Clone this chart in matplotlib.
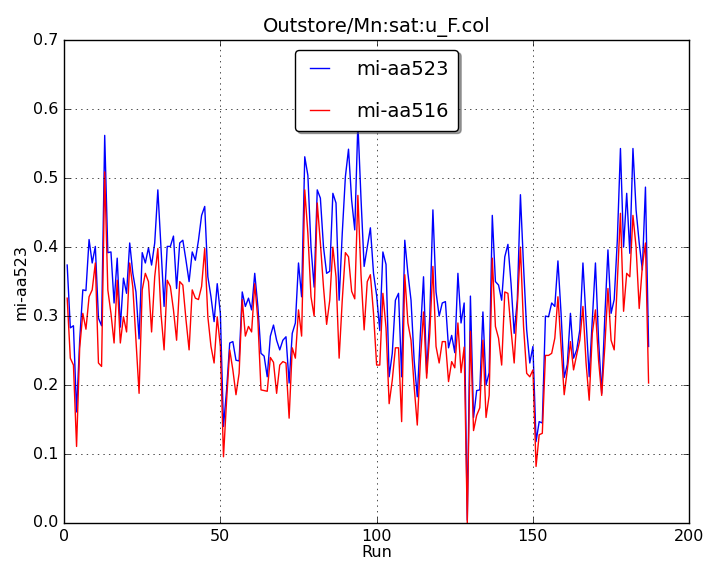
import matplotlib
matplotlib.use("Agg")
import matplotlib.pyplot as plt

# Run numbers and the two detector columns
runs = list(range(1, 188))

aa523 = [0.374, 0.283, 0.286, 0.161, 0.265, 0.338, 0.337, 0.411, 0.377, 0.401,
         0.297, 0.286, 0.562, 0.392, 0.393, 0.319, 0.384, 0.284, 0.355, 0.333,
         0.406, 0.362, 0.335, 0.267, 0.392, 0.377, 0.399, 0.374, 0.406, 0.483,
         0.400, 0.314, 0.401, 0.401, 0.416, 0.340, 0.406, 0.410, 0.381, 0.350,
         0.393, 0.381, 0.410, 0.446, 0.459, 0.357, 0.328, 0.292, 0.347, 0.304,
         0.140, 0.193, 0.261, 0.263, 0.236, 0.235, 0.335, 0.314, 0.326, 0.309,
         0.362, 0.314, 0.246, 0.242, 0.212, 0.271, 0.287, 0.265, 0.251, 0.265,
         0.270, 0.203, 0.275, 0.290, 0.377, 0.328, 0.531, 0.504, 0.400, 0.342,
         0.483, 0.471, 0.400, 0.362, 0.365, 0.478, 0.464, 0.323, 0.420, 0.502,
         0.542, 0.468, 0.425, 0.580, 0.470, 0.372, 0.400, 0.428, 0.362, 0.330,
         0.279, 0.393, 0.375, 0.212, 0.246, 0.323, 0.333, 0.212, 0.410, 0.362,
         0.323, 0.236, 0.183, 0.275, 0.357, 0.217, 0.299, 0.454, 0.335, 0.300,
         0.319, 0.321, 0.254, 0.272, 0.247, 0.362, 0.290, 0.319, 0.004, 0.329,
         0.153, 0.192, 0.193, 0.306, 0.200, 0.218, 0.446, 0.350, 0.345, 0.323,
         0.386, 0.404, 0.347, 0.275, 0.323, 0.476, 0.372, 0.280, 0.232, 0.256,
         0.118, 0.147, 0.145, 0.300, 0.299, 0.319, 0.314, 0.380, 0.304, 0.211,
         0.230, 0.304, 0.239, 0.251, 0.280, 0.377, 0.295, 0.212, 0.295, 0.377,
         0.265, 0.188, 0.299, 0.396, 0.304, 0.324, 0.410, 0.543, 0.400, 0.478,
         0.391, 0.543, 0.454, 0.406, 0.367, 0.487, 0.256]

aa516 = [0.326, 0.239, 0.229, 0.111, 0.254, 0.304, 0.281, 0.328, 0.338, 0.377,
         0.232, 0.227, 0.509, 0.338, 0.304, 0.261, 0.352, 0.261, 0.299, 0.277,
         0.377, 0.342, 0.265, 0.188, 0.338, 0.362, 0.350, 0.277, 0.357, 0.398,
         0.304, 0.251, 0.352, 0.343, 0.309, 0.265, 0.350, 0.345, 0.295, 0.251,
         0.338, 0.326, 0.324, 0.343, 0.398, 0.299, 0.256, 0.232, 0.299, 0.256,
         0.096, 0.178, 0.251, 0.222, 0.186, 0.217, 0.324, 0.271, 0.285, 0.277,
         0.347, 0.295, 0.193, 0.192, 0.191, 0.240, 0.233, 0.188, 0.229, 0.234,
         0.232, 0.152, 0.254, 0.239, 0.309, 0.271, 0.483, 0.420, 0.328, 0.300,
         0.464, 0.406, 0.342, 0.288, 0.323, 0.400, 0.357, 0.239, 0.323, 0.392,
         0.386, 0.336, 0.325, 0.475, 0.360, 0.280, 0.350, 0.360, 0.304, 0.229,
         0.229, 0.333, 0.283, 0.173, 0.207, 0.254, 0.254, 0.147, 0.360, 0.290,
         0.265, 0.198, 0.142, 0.236, 0.306, 0.210, 0.275, 0.372, 0.256, 0.232,
         0.263, 0.263, 0.205, 0.234, 0.225, 0.290, 0.218, 0.255, 0.000, 0.278,
         0.134, 0.156, 0.167, 0.265, 0.153, 0.185, 0.384, 0.285, 0.268, 0.229,
         0.335, 0.333, 0.280, 0.232, 0.314, 0.400, 0.285, 0.217, 0.212, 0.222,
         0.082, 0.128, 0.130, 0.243, 0.243, 0.246, 0.268, 0.328, 0.256, 0.186,
         0.222, 0.263, 0.222, 0.244, 0.265, 0.314, 0.232, 0.178, 0.275, 0.309,
         0.236, 0.185, 0.256, 0.340, 0.265, 0.251, 0.350, 0.449, 0.307, 0.362,
         0.357, 0.446, 0.400, 0.311, 0.372, 0.406, 0.203]

plt.style.use("classic")
plt.rcParams["font.family"] = "DejaVu Sans"

fig = plt.figure(figsize=(7.04, 5.64), dpi=100, facecolor="white")
ax = fig.add_axes([0.091, 0.0727, 0.888, 0.856])

ax.plot(runs, aa523, "b-", lw=1.0, label="mi-aa523")
ax.plot(runs, aa516, "r-", lw=1.0, label="mi-aa516")

ax.set_xlim(0, 200)
ax.set_ylim(0.0, 0.7)
ax.set_xticks([0, 50, 100, 150, 200])
ax.set_yticks([0.0, 0.1, 0.2, 0.3, 0.4, 0.5, 0.6, 0.7])
ax.tick_params(labelsize=11.5)
ax.grid(True)

ax.set_title("Outstore/Mn:sat:u_F.col", fontsize=14, pad=6)
ax.set_xlabel("Run", fontsize=11.5, labelpad=1)
ax.set_ylabel("mi-aa523", fontsize=11.5, labelpad=3)

leg = ax.legend(loc="upper center", fontsize=14, fancybox=True, shadow=True,
                labelspacing=1.2, handlelength=1.55, handletextpad=1.1,
                borderpad=0.5, numpoints=2)
leg.get_frame().set_linewidth(1.0)

fig.savefig("out.png", dpi=100, facecolor="white")
